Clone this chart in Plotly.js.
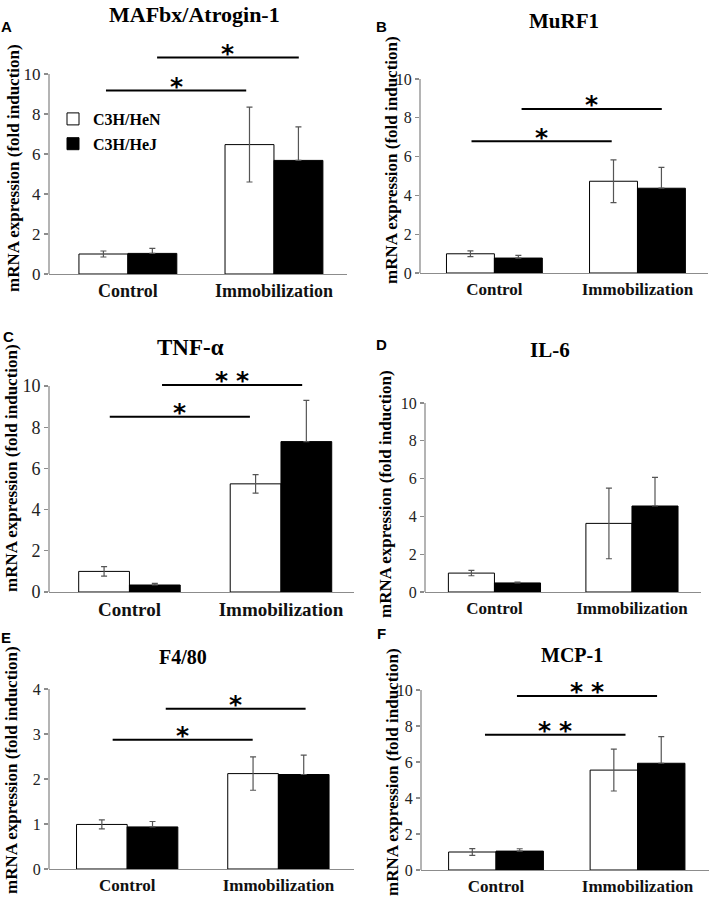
<!DOCTYPE html>
<html>
<head>
<meta charset="utf-8">
<script src="https://cdn.plot.ly/plotly-3.0.1.min.js"></script>
<style>html,body{margin:0;padding:0;background:#fff;}#chart{width:709px;height:897px;}</style>
</head>
<body>
<div id="chart"></div>
<script>
// ---------------- DATA ----------------
const categories = ['Control', 'Immobilization'];
const seriesNames = ['C3H/HeN', 'C3H/HeJ'];
const panelTitles = ['MAFbx/Atrogin-1', 'MuRF1', 'TNF-α', 'IL-6', 'F4/80', 'MCP-1'];
const panelLetters = ['A', 'B', 'C', 'D', 'E', 'F'];
const yAxisTitle = 'mRNA expression (fold induction)';

// MAFbx/Atrogin-1
const mafbxHeN = [1.00, 6.47];  const mafbxHeNErr = [0.15, 1.87];
const mafbxHeJ = [1.03, 5.68];  const mafbxHeJErr = [0.25, 1.68];
// MuRF1
const murf1HeN = [0.99, 4.73];  const murf1HeNErr = [0.15, 1.10];
const murf1HeJ = [0.77, 4.37];  const murf1HeJErr = [0.14, 1.07];
// TNF-alpha
const tnfHeN = [1.00, 5.25];    const tnfHeNErr = [0.23, 0.45];
const tnfHeJ = [0.34, 7.30];    const tnfHeJErr = [0.08, 2.00];
// IL-6
const il6HeN = [1.00, 3.63];    const il6HeNErr = [0.14, 1.87];
const il6HeJ = [0.48, 4.55];    const il6HeJErr = [0.05, 1.52];
// F4/80
const f480HeN = [0.99, 2.12];   const f480HeNErr = [0.10, 0.37];
const f480HeJ = [0.935, 2.10];  const f480HeJErr = [0.12, 0.43];
// MCP-1
const mcp1HeN = [1.00, 5.55];   const mcp1HeNErr = [0.19, 1.16];
const mcp1HeJ = [1.05, 5.93];   const mcp1HeJErr = [0.13, 1.48];

// y-axis ticks
const ticks10 = [0, 2, 4, 6, 8, 10];
const ticks4 = [0, 1, 2, 3, 4];

// significance brackets (start/end in category units, height in data units)
const mafbxSigStart = [-0.15, 0.20]; const mafbxSigEnd = [0.81, 1.17]; const mafbxSigY = [9.17, 10.83]; const mafbxSigLabel = ['*', '*'];
const murf1SigStart = [-0.16, 0.19]; const murf1SigEnd = [0.82, 1.17]; const murf1SigY = [6.79, 8.46];  const murf1SigLabel = ['*', '*'];
const tnfSigStart = [-0.13, 0.215];  const tnfSigEnd = [0.795, 1.14];  const tnfSigY = [8.51, 10.05];   const tnfSigLabel = ['*', '**'];
const il6SigStart = [];              const il6SigEnd = [];             const il6SigY = [];              const il6SigLabel = [];
const f480SigStart = [-0.096, 0.255]; const f480SigEnd = [0.83, 1.18]; const f480SigY = [2.87, 3.56];   const f480SigLabel = ['*', '*'];
const mcp1SigStart = [-0.078, 0.148]; const mcp1SigEnd = [0.915, 1.138]; const mcp1SigY = [7.52, 9.67]; const mcp1SigLabel = ['**', '**'];

// ---------------- LAYOUT GEOMETRY (pixels) ----------------
const W = 709, H = 897;
const fx = p => p / W;
const fy = p => 1 - p / H;

const panels = [
  {heN: mafbxHeN, heNErr: mafbxHeNErr, heJ: mafbxHeJ, heJErr: mafbxHeJErr, ticks: ticks10, top: 10, rmax: 11.5,
   sig: [mafbxSigStart, mafbxSigEnd, mafbxSigY, mafbxSigLabel], scale: 1.0,
   xpx: [49, 347], ypx: [274, 44], xr: [-0.54, 1.5], title: [194, 15], letter: [6, 27], ytitle: [13, 168]},
  {heN: murf1HeN, heNErr: murf1HeNErr, heJ: murf1HeJ, heJErr: murf1HeJErr, ticks: ticks10, top: 10, rmax: 10,
   sig: [murf1SigStart, murf1SigEnd, murf1SigY, murf1SigLabel], scale: 0.97,
   xpx: [420, 708], ypx: [273, 79], xr: [-0.52, 1.493], title: [564, 21], letter: [381, 27], ytitle: [392, 160]},
  {heN: tnfHeN, heNErr: tnfHeNErr, heJ: tnfHeJ, heJErr: tnfHeJErr, ticks: ticks10, top: 10, rmax: 10.5,
   sig: [tnfSigStart, tnfSigEnd, tnfSigY, tnfSigLabel], scale: 1.03,
   xpx: [49, 354], ypx: [592, 375.7], xr: [-0.531, 1.482], title: [190, 347], letter: [8, 336], ytitle: [11, 468]},
  {heN: il6HeN, heNErr: il6HeNErr, heJ: il6HeJ, heJErr: il6HeJErr, ticks: ticks10, top: 10, rmax: 10,
   sig: [il6SigStart, il6SigEnd, il6SigY, il6SigLabel], scale: 0.945,
   xpx: [425, 701], ypx: [592, 403], xr: [-0.505, 1.502], title: [550, 350], letter: [381, 344], ytitle: [385, 494]},
  {heN: f480HeN, heNErr: f480HeNErr, heJ: f480HeJ, heJErr: f480HeJErr, ticks: ticks4, top: 4, rmax: 4,
   sig: [f480SigStart, f480SigEnd, f480SigY, f480SigLabel], scale: 0.92,
   xpx: [49, 354], ypx: [869, 689], xr: [-0.517, 1.5], title: [183, 657], letter: [6, 637], ytitle: [11, 770]},
  {heN: mcp1HeN, heNErr: mcp1HeNErr, heJ: mcp1HeJ, heJErr: mcp1HeJErr, ticks: ticks10, top: 10, rmax: 10,
   sig: [mcp1SigStart, mcp1SigEnd, mcp1SigY, mcp1SigLabel], scale: 0.92,
   xpx: [421, 709], ypx: [870, 690], xr: [-0.53, 1.505], title: [572, 655], letter: [381, 633], ytitle: [392, 772]}
];

const AXIS_GRAY = '#8c8c8c';
const ERR_GRAY = '#555555';
const SERIF = 'Liberation Serif';

const traces = [];
const shapes = [];
const annotations = [];
const layout = {
  width: W, height: H,
  margin: {l: 0, r: 0, t: 0, b: 0},
  paper_bgcolor: '#ffffff', plot_bgcolor: '#ffffff',
  barmode: 'group', bargap: 0.33, bargroupgap: 0,
  showlegend: true,
  legend: {
    x: fx(53), y: fy(102), xanchor: 'left', yanchor: 'top',
    bgcolor: 'rgba(0,0,0,0)', borderwidth: 0,
    font: {family: SERIF, size: 16, color: '#000', weight: 700},
    traceorder: 'grouped', tracegroupgap: 1
  },
  font: {family: SERIF, color: '#000'}
};

panels.forEach((p, i) => {
  const n = i + 1;
  const xa = 'x' + (n === 1 ? '' : n), ya = 'y' + (n === 1 ? '' : n);
  const xk = 'xaxis' + (n === 1 ? '' : n), yk = 'yaxis' + (n === 1 ? '' : n);

  traces.push({
    type: 'bar', x: categories, y: p.heN, name: seriesNames[0], xaxis: xa, yaxis: ya,
    legendgroup: 'heN', showlegend: i === 0,
    marker: {color: '#ffffff', line: {color: '#000000', width: 1}},
    error_y: {type: 'data', array: p.heNErr, visible: true, color: ERR_GRAY, thickness: 1.2, width: 3},
    hoverinfo: 'skip'
  });
  // the lower whisker of the filled bars is hidden inside the black bar in the original
  traces.push({
    type: 'bar', x: categories, y: p.heJ, name: seriesNames[1], xaxis: xa, yaxis: ya,
    legendgroup: 'heJ', showlegend: i === 0,
    marker: {color: '#000000', line: {color: '#000000', width: 1}},
    error_y: {type: 'data', symmetric: false, array: p.heJErr, arrayminus: p.heJErr.map(() => 0),
              visible: true, color: ERR_GRAY, thickness: 1.2, width: 3},
    hoverinfo: 'skip'
  });

  layout[xk] = {
    domain: [fx(p.xpx[0]), fx(p.xpx[1])], range: p.xr, anchor: ya,
    type: 'category', showline: true, linecolor: AXIS_GRAY, linewidth: 1.3,
    ticks: '', showgrid: false, zeroline: false,
    tickfont: {family: SERIF, size: Math.round(18 * p.scale), color: '#111', weight: 700}, fixedrange: true
  };
  layout[yk] = {
    domain: [fy(p.ypx[0]), fy(p.ypx[1])], range: [0, p.rmax], anchor: xa,
    showline: false, ticks: 'outside', ticklen: 4, tickcolor: AXIS_GRAY, tickwidth: 1.2,
    tickvals: p.ticks, ticktext: p.ticks.map(String),
    showgrid: false, zeroline: false,
    tickfont: {family: SERIF, size: Math.round(17 * p.scale), color: '#222'}, fixedrange: true
  };

  // y axis line ending at the top tick
  shapes.push({type: 'line', xref: xa + ' domain', yref: ya, x0: 0, x1: 0, y0: 0, y1: p.top,
               line: {color: AXIS_GRAY, width: 1.3}});

  // significance brackets
  const [s0, s1, sy, sl] = p.sig;
  for (let k = 0; k < sy.length; k++) {
    shapes.push({type: 'line', xref: xa, yref: ya, x0: s0[k], x1: s1[k], y0: sy[k], y1: sy[k],
                 line: {color: '#000', width: 2}});
    const cnt = sl[k].length;
    for (let a = 0; a < cnt; a++) {
      annotations.push({xref: xa, yref: ya, x: (s0[k] + s1[k]) / 2, y: sy[k], text: '*', showarrow: false,
        xanchor: 'center', yanchor: 'middle', yshift: 4, xshift: (a - (cnt - 1) / 2) * 21,
        font: {family: 'DejaVu Sans', size: 25, color: '#000', weight: 700}});
    }
  }

  // panel title
  annotations.push({xref: 'paper', yref: 'paper', x: fx(p.title[0]), y: fy(p.title[1]), text: panelTitles[i],
    showarrow: false, xanchor: 'center', yanchor: 'middle',
    font: {family: SERIF, size: Math.round(22 * p.scale), color: '#000', weight: 700}});
  // panel letter
  annotations.push({xref: 'paper', yref: 'paper', x: fx(p.letter[0]), y: fy(p.letter[1]), text: panelLetters[i],
    showarrow: false, xanchor: 'center', yanchor: 'middle',
    font: {family: 'Liberation Sans', size: 15, color: '#000', weight: 700}});
  // y axis title
  annotations.push({xref: 'paper', yref: 'paper', x: fx(p.ytitle[0]), y: fy(p.ytitle[1]), text: yAxisTitle,
    showarrow: false, xanchor: 'center', yanchor: 'middle', textangle: -90,
    font: {family: SERIF, size: 17, color: '#000', weight: 700}});
});

layout.shapes = shapes;
layout.annotations = annotations;

Plotly.newPlot('chart', traces, layout, {staticPlot: true, displayModeBar: false});
</script>
</body>
</html>
